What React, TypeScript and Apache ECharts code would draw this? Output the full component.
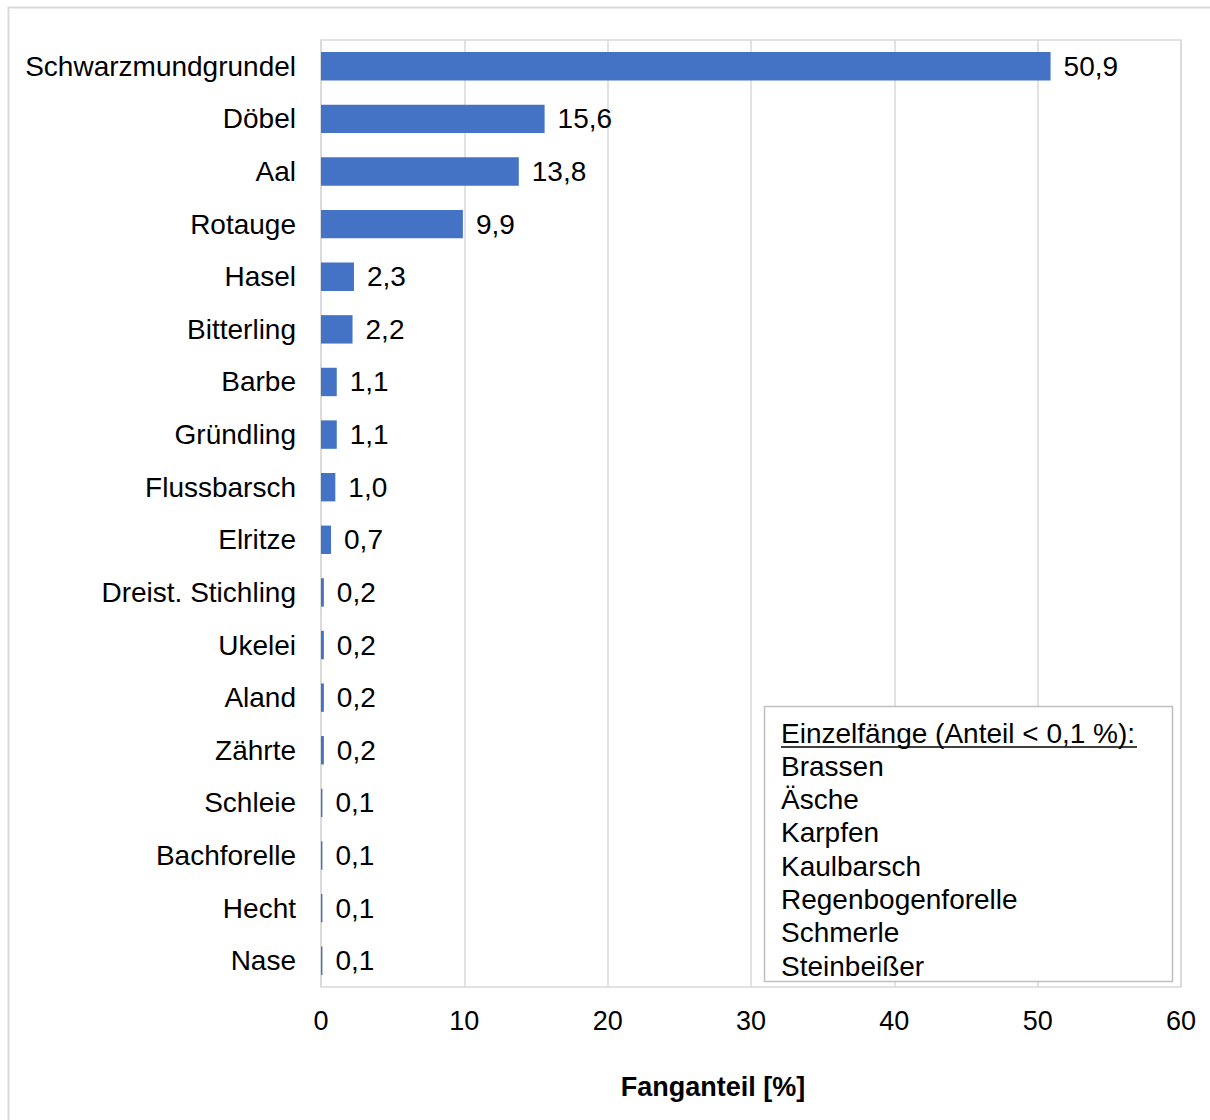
import React, { useEffect, useRef } from "react";
import * as echarts from "echarts";

// Fish species, top to bottom as listed
const species = [
  "Schwarzmundgrundel",
  "Döbel",
  "Aal",
  "Rotauge",
  "Hasel",
  "Bitterling",
  "Barbe",
  "Gründling",
  "Flussbarsch",
  "Elritze",
  "Dreist. Stichling",
  "Ukelei",
  "Aland",
  "Zährte",
  "Schleie",
  "Bachforelle",
  "Hecht",
  "Nase",
];

// Catch share in percent
const shares = [50.9, 15.6, 13.8, 9.9, 2.3, 2.2, 1.1, 1.1, 1.0, 0.7, 0.2, 0.2, 0.2, 0.2, 0.1, 0.1, 0.1, 0.1];

// Single catches listed in the note box
const noteTitle = "Einzelfänge (Anteil < 0,1 %):";
const singleCatches = ["Brassen", "Äsche", "Karpfen", "Kaulbarsch", "Regenbogenforelle", "Schmerle", "Steinbeißer"];

const axisTitle = "Fanganteil [%]";

const FONT = "Liberation Sans, Arial, sans-serif";
const fmt = (v: number) => v.toFixed(1).replace(".", ",");

export default function App() {
  const ref = useRef<HTMLDivElement>(null);

  useEffect(() => {
    if (!ref.current) return;
    const chart = echarts.init(ref.current, undefined, { renderer: "svg" });

    const noteX = 781;
    const noteY0 = 733;
    const lineH = 33.3;

    const graphics: any[] = [
      {
        type: "rect",
        shape: { x: 8.5, y: 7.5, width: 1300, height: 1300 },
        style: { fill: "none", stroke: "#d9d9d9", lineWidth: 2 },
        silent: true,
      },
      {
        type: "rect",
        shape: { x: 764.5, y: 706.5, width: 408, height: 275 },
        style: { fill: "#ffffff", stroke: "#bfbfbf", lineWidth: 1.5 },
        z: 10,
      },
      {
        type: "text",
        x: noteX,
        y: noteY0,
        style: {
          text: noteTitle,
          font: `28px ${FONT}`,
          fill: "#000",
          textVerticalAlign: "middle",
        },
        z: 11,
      },
      {
        type: "line",
        shape: { x1: noteX, y1: noteY0 + 14, x2: 1137, y2: noteY0 + 14 },
        style: { stroke: "#000", lineWidth: 1.5 },
        z: 11,
      },
      ...singleCatches.map((name, i) => ({
        type: "text",
        x: noteX,
        y: noteY0 + lineH * (i + 1),
        style: {
          text: name,
          font: `28px ${FONT}`,
          fill: "#000",
          textVerticalAlign: "middle",
        },
        z: 11,
      })),
      {
        type: "text",
        x: 713,
        y: 1087,
        style: {
          text: axisTitle,
          font: `bold 27px ${FONT}`,
          fill: "#000",
          textAlign: "center",
          textVerticalAlign: "middle",
        },
      },
    ];

    chart.setOption({
      animation: false,
      backgroundColor: "#ffffff",
      grid: {
        left: 321,
        right: 29,
        top: 40,
        bottom: 133,
        show: true,
        borderColor: "#d9d9d9",
        borderWidth: 1.5,
      },
      xAxis: {
        type: "value",
        min: 0,
        max: 60,
        interval: 10,
        axisLine: { show: false },
        axisTick: { show: false },
        axisLabel: { color: "#000", fontSize: 27, fontFamily: FONT, margin: 20 },
        splitLine: { show: true, lineStyle: { color: "#d9d9d9", width: 1.5 } },
      },
      yAxis: {
        type: "category",
        data: species,
        inverse: true,
        axisLine: { show: false },
        axisTick: { show: false },
        axisLabel: { color: "#000", fontSize: 28, fontFamily: FONT, margin: 25 },
      },
      series: [
        {
          type: "bar",
          data: shares,
          barCategoryGap: "46%",
          itemStyle: { color: "#4472C4" },
          label: {
            show: true,
            position: "right",
            distance: 13,
            color: "#000",
            fontSize: 28,
            fontFamily: FONT,
            formatter: (p: any) => fmt(p.value),
          },
        },
      ],
      graphic: graphics,
    });

    return () => chart.dispose();
  }, []);

  return (
    <div
      ref={ref}
      style={{ position: "absolute", left: 0, top: 0, width: 1210, height: 1120 }}
    />
  );
}
